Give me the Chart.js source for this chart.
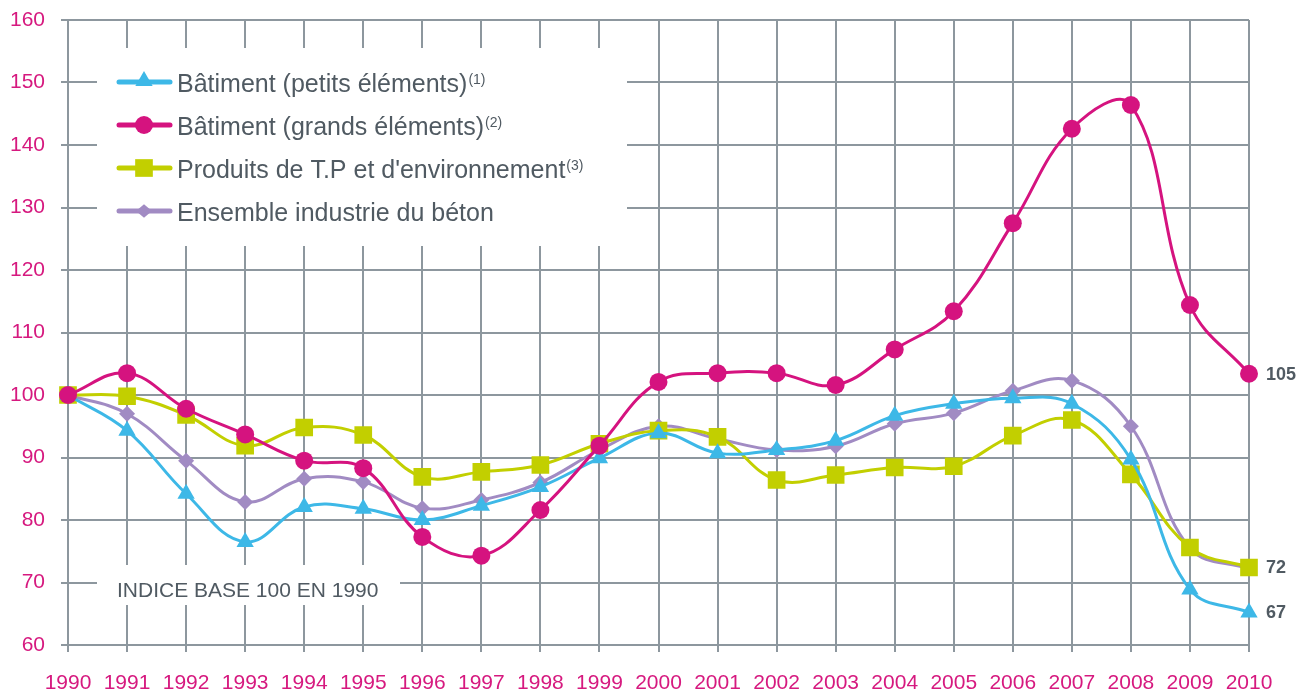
<!DOCTYPE html>
<html>
<head>
<meta charset="utf-8">
<script src="https://cdn.jsdelivr.net/npm/chart.js@4.4.1/dist/chart.umd.min.js"></script>
<style>
html,body{margin:0;padding:0;background:#ffffff;}
#wrap{width:1297px;height:691px;position:relative;}
</style>
</head>
<body>
<div id="wrap"><canvas id="c" width="1297" height="691"></canvas></div>
<script>
// ---- Data ----
const years = ['1990','1991','1992','1993','1994','1995','1996','1997','1998','1999','2000','2001','2002','2003','2004','2005','2006','2007','2008','2009','2010'];
const batimentPetits = [100, 94.3, 84.2, 76.5, 82.1, 81.8, 80.0, 82.3, 85.3, 89.9, 93.9, 90.7, 91.2, 92.7, 96.7, 98.6, 99.5, 98.6, 89.7, 68.9, 65.2];
const batimentGrands = [100, 103.5, 97.8, 93.7, 89.5, 88.3, 77.3, 74.3, 81.6, 91.9, 102.1, 103.5, 103.5, 101.6, 107.3, 113.4, 127.5, 142.6, 146.4, 114.4, 103.4];
const produitsTP = [100, 99.8, 96.8, 91.9, 94.8, 93.6, 86.9, 87.7, 88.8, 92.2, 94.3, 93.3, 86.4, 87.2, 88.4, 88.6, 93.5, 96.0, 87.3, 75.6, 72.4];
const ensembleBeton = [100, 97.0, 89.5, 82.9, 86.6, 86.1, 81.9, 83.2, 86.0, 91.2, 95.0, 93.0, 91.2, 91.8, 95.4, 97.1, 100.7, 102.3, 95.0, 75.5, 72.2];
const seriesNames = ['Bâtiment (petits éléments)', 'Bâtiment (grands éléments)', 'Produits de T.P et d\'environnement', 'Ensemble industrie du béton'];
const seriesNotes = ['(1)', '(2)', '(3)', ''];
const endLabels = ['67', '105', '72', ''];
const yTicks = {min: 60, max: 160, step: 10};
const noteText = 'INDICE BASE 100 EN 1990';

// ---- Styles ----
const FONT = '"Liberation Sans", Arial, Helvetica, sans-serif';
const GRID = '#8d979e';
const PINK = '#d6197f';
const TEXT = '#505a62';
const colors = ['#3db8e7', '#d5137f', '#c2cf00', '#a18bc3'];
const pointStyles = ['triangle', 'circle', 'rect', 'rectRot'];
const pointRadii = [10, 9, 12.5, 8];
const values = [batimentPetits, batimentGrands, produitsTP, ensembleBeton];

function marker(ctx, style, x, y, r, color) {
  ctx.save();
  ctx.fillStyle = color;
  ctx.beginPath();
  if (style === 'circle') {
    ctx.arc(x, y, r, 0, Math.PI * 2);
  } else if (style === 'triangle') {
    for (let i = 0; i < 3; i++) {
      const a = i * 2 * Math.PI / 3;
      const px = x + Math.sin(a) * r, py = y - Math.cos(a) * r;
      if (i === 0) ctx.moveTo(px, py); else ctx.lineTo(px, py);
    }
    ctx.closePath();
  } else if (style === 'rect') {
    const s = Math.SQRT1_2 * r;
    ctx.rect(x - s, y - s, 2 * s, 2 * s);
  } else {
    ctx.moveTo(x, y - r * 0.85); ctx.lineTo(x + r, y); ctx.lineTo(x, y + r * 0.85); ctx.lineTo(x - r, y); ctx.closePath();
  }
  ctx.fill();
  ctx.restore();
}

const overlay = {
  id: 'overlay',
  beforeDatasetsDraw(chart) {
    const ctx = chart.ctx, ca = chart.chartArea;
    ctx.save();
    // legend box (white, hides grid)
    const lx = ca.left + 29, ly = ca.top + 28;
    ctx.fillStyle = '#ffffff';
    ctx.fillRect(lx, ly, 530, 198);
    // note box
    ctx.fillRect(lx, ca.bottom - 80, 303, 40);
    // legend items
    for (let i = 0; i < seriesNames.length; i++) {
      const cy = ly + 34 + i * 43;
      ctx.strokeStyle = colors[i];
      ctx.lineWidth = 5;
      ctx.lineCap = 'round';
      ctx.beginPath();
      ctx.moveTo(lx + 22, cy); ctx.lineTo(lx + 73, cy);
      ctx.stroke();
      marker(ctx, pointStyles[i], lx + 47, cy + (pointStyles[i] === 'triangle' ? -1 : 0), pointRadii[i], colors[i]);
      ctx.fillStyle = TEXT;
      ctx.font = '25px ' + FONT;
      ctx.textBaseline = 'alphabetic';
      ctx.textAlign = 'left';
      ctx.fillText(seriesNames[i], lx + 80, cy + 10);
      const w = ctx.measureText(seriesNames[i]).width;
      if (seriesNotes[i]) {
        ctx.font = '14px ' + FONT;
        ctx.fillText(seriesNotes[i], lx + 81 + w, cy + 2);
      }
    }
    // note text
    ctx.fillStyle = TEXT;
    ctx.font = '21px ' + FONT;
    ctx.textBaseline = 'middle';
    ctx.fillText(noteText, lx + 20, ca.bottom - 54);
    ctx.restore();
  },
  afterDatasetsDraw(chart) {
    const ctx = chart.ctx;
    const xs = chart.scales.x, ys = chart.scales.y;
    ctx.save();
    ctx.fillStyle = TEXT;
    ctx.font = 'bold 18px ' + FONT;
    ctx.textBaseline = 'middle';
    ctx.textAlign = 'left';
    const last = years.length - 1;
    for (let i = 0; i < values.length; i++) {
      if (!endLabels[i]) continue;
      ctx.fillText(endLabels[i], xs.getPixelForValue(last) + 17, ys.getPixelForValue(values[i][last]) + 1);
    }
    ctx.restore();
  }
};

const datasets = values.map((v, i) => ({
  label: seriesNames[i],
  data: v,
  borderColor: colors[i],
  backgroundColor: colors[i],
  borderWidth: 3,
  pointStyle: pointStyles[i],
  pointRadius: pointRadii[i],
  pointHoverRadius: pointRadii[i],
  pointBorderWidth: 0,
  pointBackgroundColor: colors[i],
  tension: 0.4,
  fill: false,
  order: [2, 1, 3, 4][i]
}));

new Chart(document.getElementById('c'), {
  type: 'line',
  data: {labels: years, datasets},
  plugins: [overlay],
  options: {
    responsive: false,
    animation: false,
    devicePixelRatio: 1,
    layout: {padding: {top: 20, right: 48, left: 0, bottom: 0}},
    plugins: {legend: {display: false}, tooltip: {enabled: false}},
    scales: {
      x: {
        offset: false,
        grid: {color: GRID, lineWidth: 2, tickLength: 7, offset: false},
        border: {color: GRID, width: 2},
        ticks: {color: PINK, font: {size: 21, family: FONT}, padding: 19, maxRotation: 0, autoSkip: false},
        afterFit(s) { s.height = 46; s.paddingLeft = 0; s.paddingRight = 0; }
      },
      y: {
        min: yTicks.min, max: yTicks.max,
        grid: {color: GRID, lineWidth: 2, tickLength: 7},
        border: {color: GRID, width: 2},
        ticks: {stepSize: yTicks.step, color: PINK, font: {size: 21, family: FONT}, padding: 16},
        afterFit(s) { s.width = 68; s.paddingTop = 0; s.paddingBottom = 0; }
      }
    }
  }
});
</script>
</body>
</html>
